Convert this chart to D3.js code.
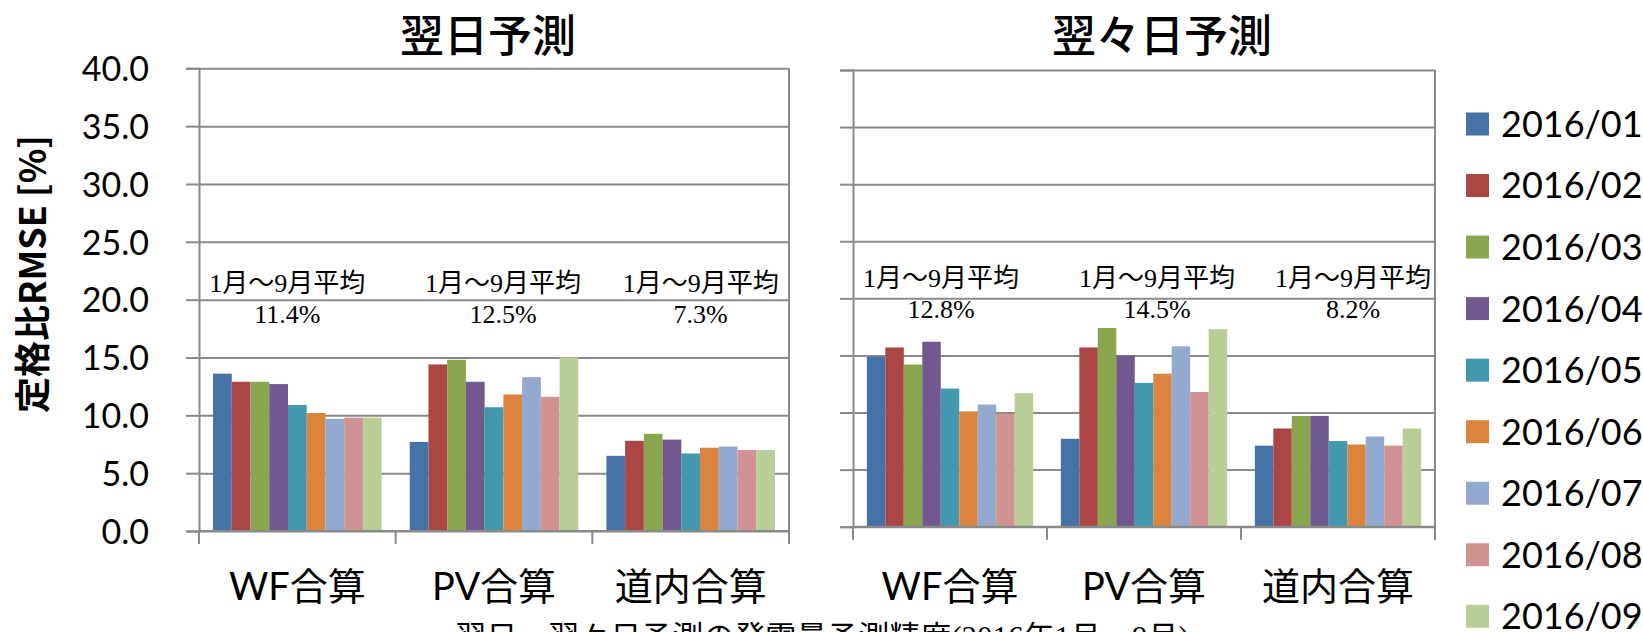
<!DOCTYPE html>
<html>
<head>
<meta charset="utf-8">
<script src="https://cdn.jsdelivr.net/npm/d3@7"></script>
<style>
  html, body { margin: 0; padding: 0; background: #fff; }
  svg { display: block; }
</style>
</head>
<body>
<svg id="chart" width="1643" height="632"></svg>
<script>
// Categories and series
const categories = ["WF合算", "PV合算", "道内合算"];
const months = ["2016/01", "2016/02", "2016/03", "2016/04", "2016/05",
                "2016/06", "2016/07", "2016/08", "2016/09"];
const monthColors = ["#4572A7", "#AA4643", "#89A54E", "#71588F", "#4198AF",
                     "#DB843D", "#93A9CF", "#D19392", "#B9CD96"];
const yTicks = [0, 5, 10, 15, 20, 25, 30, 35, 40];

// 翌日予測: RMSE per month for each aggregate
const nextDayWF       = [13.6, 12.9, 12.9, 12.7, 10.9, 10.2, 9.7, 9.8, 9.8];
const nextDayPV       = [7.7, 14.4, 14.8, 12.9, 10.7, 11.8, 13.3, 11.6, 15.0];
const nextDayHokkaido = [6.5, 7.8, 8.4, 7.9, 6.7, 7.2, 7.3, 7.0, 7.0];
const nextDayAverage  = ["11.4%", "12.5%", "7.3%"];

// 翌々日予測
const dayAfterWF       = [14.9, 15.7, 14.2, 16.2, 12.1, 10.1, 10.7, 9.9, 11.7];
const dayAfterPV       = [7.7, 15.7, 17.4, 15.0, 12.6, 13.4, 15.8, 11.8, 17.3];
const dayAfterHokkaido = [7.1, 8.6, 9.7, 9.7, 7.5, 7.2, 7.9, 7.1, 8.6];
const dayAfterAverage  = ["12.8%", "14.5%", "8.2%"];

const averageCaption = "1月～9月平均";
const yAxisTitle = "定格比RMSE [%]";
const footerTitle = "翌日・翌々日予測の発電量予測精度(2016年1月～9月)";

const panels = [
  {
    title: "翌日予測", series: [nextDayWF, nextDayPV, nextDayHokkaido], averages: nextDayAverage,
    left: 199, right: 789, top: 68.3, bottom: 531, titleX: 488,
    noteDx: [-10, 9, 10], noteY1: 292, noteY2: 323, showLabels: true
  },
  {
    title: "翌々日予測", series: [dayAfterWF, dayAfterPV, dayAfterHokkaido], averages: dayAfterAverage,
    left: 853, right: 1435, top: 70, bottom: 526.7, titleX: 1162,
    noteDx: [-9, 13, 15], noteY1: 287, noteY2: 318, showLabels: false
  }
];

const svg = d3.select("#chart");
svg.append("rect").attr("width", 1643).attr("height", 632).attr("fill", "#fff");

const gridColor = "#8a8a8a";
const latin = "Lato, 'Noto Sans CJK JP', sans-serif";
const cjk = "'Noto Sans CJK JP', 'Noto Sans', sans-serif";
const serif = "'Liberation Serif', 'Noto Sans CJK JP', serif";

panels.forEach(p => {
  const g = svg.append("g");
  const y = d3.scaleLinear().domain([0, 40]).range([p.bottom, p.top]);
  const x0 = d3.scaleBand().domain(categories).range([p.left, p.right]).padding(0);
  const x1 = d3.scaleBand().domain(months).range([0, x0.bandwidth()])
    .paddingInner(0).paddingOuter(0.75);
  const w = p.right - p.left;

  // horizontal gridlines
  const grid = g.append("g").attr("transform", `translate(${p.left},0)`)
    .call(d3.axisLeft(y).tickValues(yTicks).tickSize(-w).tickFormat(""));
  grid.select(".domain").remove();
  grid.selectAll("line").attr("stroke", gridColor).attr("stroke-width", 2);

  // bars
  categories.forEach((c, ci) => {
    g.append("g").selectAll("rect")
      .data(p.series[ci])
      .join("rect")
      .attr("x", (d, i) => x0(c) + x1(months[i]))
      .attr("width", x1.bandwidth())
      .attr("y", d => y(d))
      .attr("height", d => y(0) - y(d))
      .attr("fill", (d, i) => monthColors[i]);
  });

  // value axis with outside ticks
  const ya = g.append("g").attr("transform", `translate(${p.left},0)`)
    .call(d3.axisLeft(y).tickValues(yTicks).tickSize(13).tickPadding(37)
      .tickFormat(p.showLabels ? d3.format(".1f") : ""));
  ya.select(".domain").attr("stroke", gridColor).attr("stroke-width", 2);
  ya.selectAll("line").attr("stroke", gridColor).attr("stroke-width", 2);
  ya.selectAll("text").attr("font-family", latin).attr("font-size", 34)
    .attr("fill", "#000").attr("dy", "0.36em");

  // right border of the plot area
  g.append("line").attr("x1", p.right).attr("x2", p.right)
    .attr("y1", p.top).attr("y2", p.bottom + 13)
    .attr("stroke", gridColor).attr("stroke-width", 2);

  // baseline and category ticks
  g.append("line").attr("x1", p.left).attr("x2", p.right)
    .attr("y1", y(0)).attr("y2", y(0))
    .attr("stroke", gridColor).attr("stroke-width", 2);
  const bounds = categories.map(c => x0(c)).concat([p.right]);
  g.append("g").selectAll("line").data(bounds).join("line")
    .attr("x1", d => d).attr("x2", d => d)
    .attr("y1", y(0)).attr("y2", y(0) + 13)
    .attr("stroke", gridColor).attr("stroke-width", 2);

  // category labels
  g.append("g").selectAll("text").data(categories).join("text")
    .attr("x", c => x0(c) + x0.bandwidth() / 2)
    .attr("y", 600)
    .attr("text-anchor", "middle")
    .attr("font-family", latin)
    .attr("font-size", 38)
    .attr("fill", "#000")
    .text(c => c);

  // monthly average notes
  const notes = g.append("g").attr("font-family", serif).attr("font-size", 26)
    .attr("fill", "#000").attr("text-anchor", "middle");
  categories.forEach((c, ci) => {
    const cx = x0(c) + x0.bandwidth() / 2 + p.noteDx[ci];
    notes.append("text").attr("x", cx).attr("y", p.noteY1).text(averageCaption);
    notes.append("text").attr("x", cx).attr("y", p.noteY2).text(p.averages[ci]);
  });

  // panel title
  g.append("text")
    .attr("x", p.titleX).attr("y", 52)
    .attr("text-anchor", "middle")
    .attr("font-family", cjk)
    .attr("font-weight", 500)
    .attr("font-size", 44)
    .attr("fill", "#000")
    .text(p.title);
});

// value axis title
svg.append("text")
  .attr("transform", "translate(46,274) rotate(-90)")
  .attr("text-anchor", "middle")
  .attr("font-family", cjk)
  .attr("font-weight", 700)
  .attr("font-size", 36)
  .attr("fill", "#000")
  .text(yAxisTitle);

// legend
const legend = svg.append("g");
const legendY = d3.scalePoint().domain(months).range([124, 616.3]);
months.forEach((m, i) => {
  legend.append("rect")
    .attr("x", 1466).attr("y", legendY(m) - 11.5)
    .attr("width", 23).attr("height", 23)
    .attr("fill", monthColors[i]);
  legend.append("text")
    .attr("x", 1501).attr("y", legendY(m))
    .attr("dy", "0.36em")
    .attr("font-family", latin)
    .attr("font-size", 36)
    .attr("fill", "#000")
    .text(m);
});

// footer caption (partly below the visible area)
svg.append("text")
  .attr("x", 822).attr("y", 648)
  .attr("text-anchor", "middle")
  .attr("font-family", serif)
  .attr("font-size", 31)
  .attr("fill", "#000")
  .text(footerTitle);
</script>
</body>
</html>
